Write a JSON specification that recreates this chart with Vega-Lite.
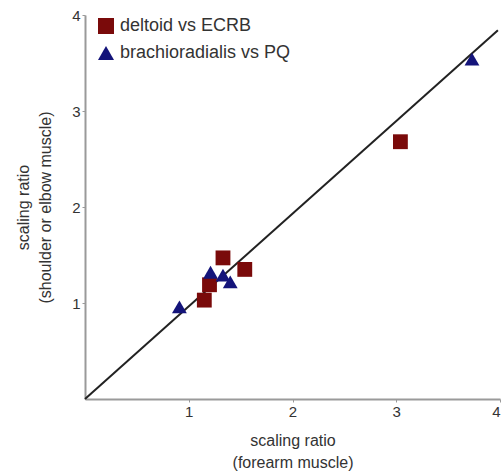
{
  "$schema": "https://vega.github.io/schema/vega-lite/v6.json",
  "width": 415,
  "height": 384,
  "autosize": "none",
  "padding": {"left": 85, "top": 15, "right": 3, "bottom": 75},
  "background": "white",
  "config": {
    "view": {"stroke": null},
    "font": "Liberation Sans",
    "axis": {"grid": false, "domainColor": "#9a9a9a", "domainWidth": 2, "tickColor": "#9a9a9a", "tickSize": 3, "labelColor": "#333333", "labelFontSize": 15, "titleColor": "#333333", "titleFontSize": 16, "titleFontWeight": "normal", "titleLineHeight": 22, "format": "d"}
  },
  "datasets": {
    "pts": [
      {"x": 1.33, "y": 1.47, "pair": "deltoid vs ECRB"},
      {"x": 1.54, "y": 1.35, "pair": "deltoid vs ECRB"},
      {"x": 1.20, "y": 1.19, "pair": "deltoid vs ECRB"},
      {"x": 1.15, "y": 1.03, "pair": "deltoid vs ECRB"},
      {"x": 3.04, "y": 2.68, "pair": "deltoid vs ECRB"},
      {"x": 0.91, "y": 0.96, "pair": "brachioradialis vs PQ"},
      {"x": 1.21, "y": 1.32, "pair": "brachioradialis vs PQ"},
      {"x": 1.33, "y": 1.29, "pair": "brachioradialis vs PQ"},
      {"x": 1.40, "y": 1.22, "pair": "brachioradialis vs PQ"},
      {"x": 3.73, "y": 3.54, "pair": "brachioradialis vs PQ"}
    ],
    "fit": [
      {"x": 0, "y": 0},
      {"x": 3.98, "y": 3.84}
    ]
  },
  "layer": [
    {
      "data": {"name": "fit"},
      "mark": {"type": "line", "color": "#222222", "strokeWidth": 2, "clip": false},
      "encoding": {
        "x": {"field": "x", "type": "quantitative", "scale": {"domain": [0, 4], "nice": false},
          "axis": {"values": [1, 2, 3, 4], "format": "d", "title": ["scaling ratio", "(forearm muscle)"], "labelPadding": 2, "titlePadding": 13}},
        "y": {"field": "y", "type": "quantitative", "scale": {"domain": [0, 4], "nice": false},
          "axis": {"values": [1, 2, 3, 4], "format": "d", "title": ["scaling ratio", "(shoulder or elbow muscle)"], "labelPadding": 2, "titlePadding": 18}}
      }
    },
    {
      "data": {"name": "pts"},
      "mark": {"type": "point", "filled": true, "opacity": 1, "size": 220},
      "encoding": {
        "x": {"field": "x", "type": "quantitative"},
        "y": {"field": "y", "type": "quantitative"},
        "shape": {"field": "pair", "type": "nominal",
          "scale": {"domain": ["deltoid vs ECRB", "brachioradialis vs PQ"], "range": ["square", "triangle-up"]},
          "legend": {"title": null, "orient": "none", "legendX": 12, "legendY": 2, "padding": 0,
            "symbolSize": 256, "labelFontSize": 18, "labelLimit": 0, "labelColor": "#333333", "rowPadding": 9, "labelOffset": 5,
            "symbolStrokeWidth": 0, "symbolOpacity": 1}},
        "color": {"field": "pair", "type": "nominal",
          "scale": {"domain": ["deltoid vs ECRB", "brachioradialis vs PQ"], "range": ["#7a0a0a", "#14147a"]},
          "legend": {"title": null, "orient": "none", "legendX": 12, "legendY": 2, "padding": 0,
            "symbolSize": 256, "labelFontSize": 18, "labelLimit": 0, "labelColor": "#333333", "rowPadding": 9, "labelOffset": 5,
            "symbolStrokeWidth": 0, "symbolOpacity": 1}}
      }
    }
  ]
}
